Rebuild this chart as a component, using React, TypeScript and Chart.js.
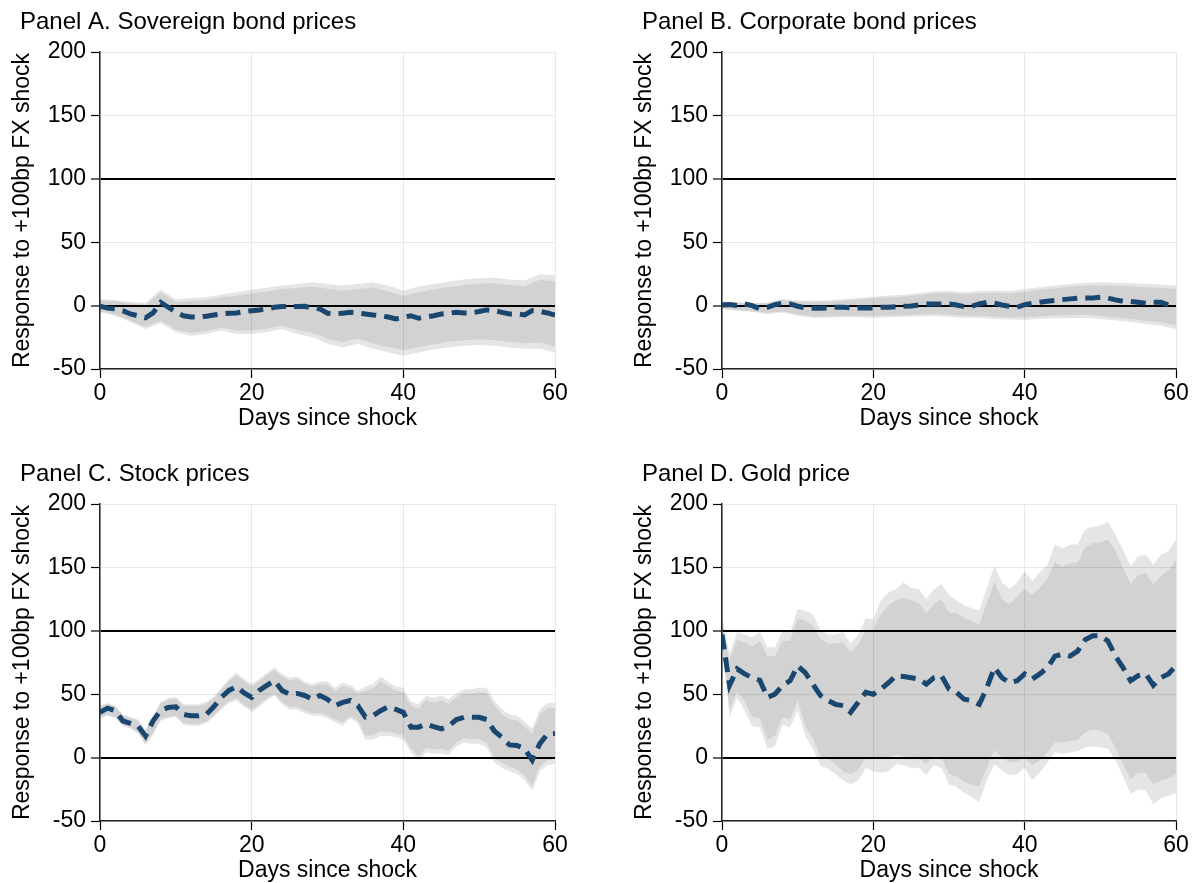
import React, { useEffect, useRef } from 'react';
import { Chart, registerables } from 'chart.js';

Chart.register(...registerables);

const FONT = "'Liberation Sans', Arial, Helvetica, sans-serif";
const NAVY = '#1a476f';
const OUTER_FILL = 'rgba(0,0,0,0.10)';
const INNER_FILL = 'rgba(0,0,0,0.085)';

const DAYS = [0, 1, 2, 3, 4, 5, 6, 7, 8, 9, 10, 11, 12, 13, 14, 15, 16, 17, 18, 19, 20, 21, 22, 23, 24, 25, 26, 27, 28, 29, 30, 31, 32, 33, 34, 35, 36, 37, 38, 39, 40, 41, 42, 43, 44, 45, 46, 47, 48, 49, 50, 51, 52, 53, 54, 55, 56, 57, 58, 59, 60];
const EVEN_DAYS = [0, 2, 4, 6, 8, 10, 12, 14, 16, 18, 20, 22, 24, 26, 28, 30, 32, 34, 36, 38, 40, 42, 44, 46, 48, 50, 52, 54, 56, 58, 60];

const Y_TICKS = [-50, 0, 50, 100, 150, 200];
const X_TICKS = [0, 20, 40, 60];
const REF_LINES = [0, 100];

// Panel A. Sovereign bond prices
const A_MEAN = [-0.5, -2, -2.6, -4, -6.6, -8, -9.7, -5.8, 2.5, -1.3, -5, -8, -9, -9, -8.4, -7.4, -6.6, -6, -5.8, -4.7, -4, -3.4, -2.6, -1.3, -0.8, -0.5, -0.8, -0.5, -2, -2.6, -6, -6.6, -6, -5.3, -5.8, -6.6, -7.4, -8, -9, -10.5, -9.2, -8, -10, -9, -8, -6.6, -6, -5.3, -5.8, -5.8, -4.7, -3.4, -4, -5.3, -6.6, -6.6, -7.4, -4, -4.5, -5.8, -7.4];
const A_OUT_HI = [5, 4.5, 3, 2, 12.6, 5, 6, 6.6, 8.7, 10.5, 12.6, 14, 15.8, 17, 18.4, 17, 15.8, 17, 18.4, 15.8, 12, 15, 17, 19, 20.5, 21.5, 22, 20.5, 19.7, 25, 24];
const A_IN_HI = [4.2, 3.5, 1.7, 0.4, 10.5, 3, 3.6, 4.2, 6.4, 7.8, 9.8, 11.2, 13, 13.8, 15, 13.2, 11.8, 13, 14.2, 11.4, 7.8, 10.6, 12.8, 14.6, 16.3, 17.3, 17.6, 16.2, 15.3, 20.3, 19.2];
const A_IN_LO = [-4.5, -7, -11.7, -16.8, -12, -19, -21.6, -20, -17.4, -19.7, -19.6, -18.2, -15.6, -19.2, -21.5, -26.2, -29, -26, -29.8, -32.6, -35.3, -32.6, -30.5, -28.6, -27.4, -26.8, -27.2, -28.7, -29.6, -29.3, -32.2];
const A_OUT_LO = [-5.3, -8, -13, -18.4, -14, -21, -24, -22.4, -19.7, -22.4, -22.4, -21, -18.4, -22.4, -25, -30, -33, -30, -34, -37, -39.5, -37, -34.7, -33, -31.6, -31, -31.6, -33, -34, -34, -37];

// Panel B. Corporate bond prices
const B_MEAN = [0.5, 0.8, 0, 1.3, 0, -2.6, -1.3, 0.8, 1.8, 1.3, -0.5, -1.8, -2, -2, -1.8, -1.3, -1.3, -1.8, -1.8, -1.8, -1.8, -1.3, -1.3, -0.8, -0.5, -0.3, 0.5, 1.3, 1.3, 1.3, 1.3, 0.5, -0.8, -0.5, 1.3, 2.6, 2, 0.5, -0.5, -1.3, 0.8, 1.8, 2.6, 3.4, 4, 4.7, 5.3, 5.8, 6, 6, 6.6, 6, 4.5, 3.4, 3.2, 2.6, 1.8, 2.6, 2.6, 0.5, -0.5];
const B_OUT_HI = [3.4, 2.6, 2, 2.5, 5.3, 4, 4, 4.2, 5, 6, 7, 8, 8.6, 9.8, 11.3, 11.8, 10.5, 11.5, 12, 11.5, 13, 14.5, 15.8, 17, 18, 18.4, 18, 17.6, 17, 16.6, 15.8];
const B_IN_HI = [2.9, 2.1, 1.4, 1.8, 4.4, 3, 2.9, 3.1, 3.9, 4.8, 5.7, 6.6, 7.2, 8.3, 9.7, 10.1, 8.9, 9.8, 10.2, 9.7, 11, 12.5, 13.7, 14.9, 15.8, 16.1, 15.6, 15.1, 14.5, 14, 13.1];
const B_IN_LO = [-2.1, -3.5, -4.4, -5.9, -4.6, -7, -8.6, -8.4, -8.1, -8, -8.4, -7.8, -7.6, -7, -6.6, -7.3, -8.1, -8, -8.7, -9.2, -9.3, -8.5, -7.9, -7.6, -7.5, -8.2, -9.4, -10.5, -12, -13.2, -15.7];
const B_OUT_LO = [-2.6, -4, -5, -6.6, -5.5, -8, -9.7, -9.5, -9.2, -9.2, -9.7, -9.2, -9, -8.5, -8.2, -9, -9.7, -9.7, -10.5, -11, -11.3, -10.5, -10, -9.7, -9.7, -10.5, -11.8, -13, -14.5, -15.8, -18.4];

// Panel C. Stock prices
const C_MEAN = [35.7, 39, 37, 29, 27, 25, 17, 29, 37, 39.6, 40, 34, 33, 33, 34, 40, 47.5, 53, 56, 51, 47.5, 53, 57, 60.6, 53, 50, 50.6, 49, 46, 49, 46, 41, 43.5, 45, 41, 32, 33, 37, 40, 38, 35.7, 24, 24, 26.5, 24.4, 22.6, 25, 30, 31.8, 31.8, 31.8, 30, 21, 16, 10, 9.5, 7, -2, 11, 18.6, 19];
const C_OUT_HI = [41, 43, 41, 34, 32, 30, 22, 33, 44, 47, 48, 42, 42, 42, 44, 48, 55, 62, 67, 62, 58, 62, 67, 71, 66, 63, 64, 60, 58, 60, 60, 55, 59, 57, 53, 56, 58, 64, 60, 56, 55, 44, 42, 49, 47, 49, 46, 51, 54, 54, 55, 55, 45, 38, 34, 33, 28, 23, 38, 43, 43];
const C_IN_HI = [40.2, 42.2, 40.2, 33.3, 31.3, 29.1, 21, 31.8, 42.8, 45.7, 46.7, 40.7, 40.6, 40.6, 42.6, 46.7, 53.6, 60.5, 65.2, 60.2, 56.2, 60.2, 65.2, 69.2, 64.1, 61, 61.9, 58, 56, 57.8, 57.7, 52.8, 56.3, 54.9, 50.9, 52.6, 54.5, 60.2, 56.6, 52.8, 51.7, 40.8, 38.5, 45.4, 43.5, 45.3, 42.5, 47.6, 50.6, 50.6, 51.5, 51.2, 41.1, 34.3, 30.4, 29.3, 24.3, 19.1, 34.1, 39.1, 39.2];
const C_IN_LO = [31.8, 33.8, 31.8, 25.7, 23.7, 19.9, 11, 19.2, 30.2, 32.3, 33.3, 27.3, 26.4, 26.4, 28.4, 33.3, 39.4, 44.5, 46.8, 41.8, 37.8, 41.8, 46.8, 50.8, 43.9, 40, 40.1, 37, 35, 35.2, 33.3, 30.2, 27.7, 33.1, 29.1, 17.4, 17.5, 20.8, 20.4, 19.2, 17.3, 7.2, 1.5, 7.6, 6.5, 6.7, 5.5, 12.4, 15.4, 14.4, 14.5, 11.8, -0.1, -4.3, -7.4, -9.3, -14.3, -22.1, -7.1, -2.1, -1.2];
const C_OUT_LO = [31, 33, 31, 25, 23, 19, 10, 18, 29, 31, 32, 26, 25, 25, 27, 32, 38, 43, 45, 40, 36, 40, 45, 49, 42, 38, 38, 35, 33, 33, 31, 28, 25, 31, 27, 14, 14, 17, 17, 16, 14, 4, -2, 4, 3, 3, 2, 9, 12, 11, 11, 8, -4, -8, -11, -13, -18, -26, -11, -6, -5];

// Panel D. Gold price
const D_MEAN = [97, 57, 70, 66, 63, 61, 47.5, 50, 57, 60.6, 72.4, 67, 58, 49, 45, 42, 41, 35.7, 43.6, 51.4, 50, 54, 59, 64.6, 64, 63, 62, 58, 63, 64.6, 54, 51.4, 46, 45, 42, 55, 71, 63, 59, 60.6, 66, 62, 66, 71, 80, 81.6, 80, 84, 93, 96, 96, 92, 80, 71, 60.6, 64.6, 66, 57, 63, 66, 72.4];
const D_OUT_HI = [112, 82, 99, 97, 95, 99, 87, 87, 100, 99, 117, 116, 113, 101, 97, 97, 99, 90, 97, 110, 109, 124, 130, 133, 138, 134, 133, 125, 133, 137, 128, 124, 120, 118, 116, 134, 151, 138, 133, 138, 147, 139, 146, 152, 168, 165, 168, 168, 180, 182, 183, 186, 176, 164, 151, 159, 160, 152, 160, 163, 172];
const D_IN_HI = [104, 77, 93, 91, 88, 92, 80, 80, 92, 92, 110, 108, 104, 94, 90, 90, 91, 83, 89, 100, 101, 113, 120, 124, 126, 124, 122, 114, 121, 125, 114, 114, 110, 108, 105, 122, 138, 125, 121, 127, 133, 128, 134, 141, 154, 151, 153, 154, 166, 169, 170, 172, 163, 150, 137, 144, 146, 137, 143, 148, 156];
const D_IN_LO = [93, 38, 52, 44, 32, 31, 14, 17, 32, 30, 45, 25, 15, 1, -1, -5, -11, -13, -10, 0, -1, -1, 0, 2, 1, 0, -1, -5, 1, 0, -13, -15, -19, -21, -23, -8, 6, 0, -4, -3, 0, -6, -2, 4, 12, 12, 13, 14, 20, 22, 21, 18, 8, -5, -17, -12, -12, -21, -18, -16, -13];
const D_OUT_LO = [90, 32, 47, 37, 25, 24, 7, 9, 26, 24, 37, 17, 7, -6, -9, -13, -18, -21, -18, -8, -11, -12, -11, -5, -6, -8, -8, -14, -6, -8, -21, -23, -28, -31, -35, -18, -5, -10, -14, -13, -8, -18, -12, -4, 4, 3, 4, 5, 8, 9, 8, 7, -2, -15, -29, -25, -26, -37, -32, -30, -28];

const TITLES = ['Panel A. Sovereign bond prices', 'Panel B. Corporate bond prices', 'Panel C. Stock prices', 'Panel D. Gold price'];
const Y_TITLE = 'Response to +100bp FX shock';
const X_TITLE = 'Days since shock';

const PANEL_H = 434;

function toPoints(xs: number[], ys: number[]) {
  return xs.map((x, i) => ({ x, y: ys[i] }));
}

const panelTitlePlugin = {
  id: 'panelTitle',
  afterDraw(chart: any, _args: any, opts: any) {
    const ctx = chart.ctx;
    ctx.save();
    ctx.font = `${opts.size}px ${FONT}`;
    ctx.fillStyle = '#000';
    ctx.textBaseline = 'alphabetic';
    ctx.textAlign = 'left';
    ctx.fillText(opts.text, opts.x, opts.y);
    ctx.restore();
  },
};

type PanelProps = {
  title: string;
  left: number;
  top: number;
  width: number;
  plotRight: number;
  days: number[];
  mean: number[];
  bandDays: number[];
  outHi: number[];
  inHi: number[];
  inLo: number[];
  outLo: number[];
};

function Panel(p: PanelProps) {
  const ref = useRef<HTMLCanvasElement>(null);
  useEffect(() => {
    const canvas = ref.current;
    if (!canvas) return;
    const bandStyle = { borderWidth: 0, borderColor: 'rgba(0,0,0,0)', pointRadius: 0, pointHoverRadius: 0, tension: 0 };
    const chart = new Chart(canvas, {
      type: 'line',
      data: {
        datasets: [
          {
            label: 'mean',
            data: toPoints(p.days, p.mean),
            borderColor: NAVY,
            borderWidth: 5,
            borderDash: [15, 8],
            borderCapStyle: 'butt',
            pointRadius: 0,
            pointHoverRadius: 0,
            fill: false,
            tension: 0,
          },
          { label: 'innerLo', data: toPoints(p.bandDays, p.inLo), fill: false, ...bandStyle },
          { label: 'innerHi', data: toPoints(p.bandDays, p.inHi), fill: '-1', backgroundColor: INNER_FILL, ...bandStyle },
          { label: 'outerLo', data: toPoints(p.bandDays, p.outLo), fill: false, ...bandStyle },
          { label: 'outerHi', data: toPoints(p.bandDays, p.outHi), fill: '-1', backgroundColor: OUTER_FILL, ...bandStyle },
        ],
      } as any,
      options: {
        responsive: false,
        animation: false,
        events: [],
        layout: { padding: { left: 0, top: 52, right: p.width - p.plotRight, bottom: 0 } },
        plugins: {
          legend: { display: false },
          tooltip: { enabled: false },
          panelTitle: { text: p.title, x: 20, y: 29, size: 24 },
        } as any,
        scales: {
          x: {
            type: 'linear',
            min: 0,
            max: 60,
            afterBuildTicks: (scale: any) => {
              scale.ticks = X_TICKS.map((v) => ({ value: v }));
            },
            afterFit: (scale: any) => {
              scale.height = 65;
            },
            ticks: { color: '#000', font: { family: FONT, size: 23, lineHeight: 1 }, padding: 4, maxRotation: 0 },
            grid: { color: '#e8e8e8', lineWidth: 1, tickColor: '#000', tickLength: 9, tickWidth: 1.2 },
            border: { display: true, color: '#222', width: 1.5 },
            title: {
              display: true,
              text: X_TITLE,
              color: '#000',
              font: { family: FONT, size: 23, lineHeight: 1 },
              padding: { top: 0, bottom: 4 },
            },
          },
          y: {
            type: 'linear',
            min: -50,
            max: 200,
            afterBuildTicks: (scale: any) => {
              scale.ticks = Y_TICKS.map((v) => ({ value: v }));
            },
            afterFit: (scale: any) => {
              scale.width = 100;
            },
            ticks: { color: '#000', font: { family: FONT, size: 23, lineHeight: 1 }, padding: 5 },
            grid: {
              color: (ctx: any) => (ctx.tick && REF_LINES.includes(ctx.tick.value) ? '#000' : '#e8e8e8'),
              lineWidth: (ctx: any) => (ctx.tick && REF_LINES.includes(ctx.tick.value) ? 2 : 1),
              tickColor: '#000',
              tickLength: 9,
              tickWidth: 1.2,
            },
            border: { display: true, color: '#222', width: 1.5 },
            title: {
              display: true,
              text: Y_TITLE,
              color: '#000',
              font: { family: FONT, size: 23, lineHeight: 1 },
              padding: { top: 11, bottom: 0 },
            },
          },
        },
      } as any,
      plugins: [panelTitlePlugin],
    });
    return () => chart.destroy();
  }, []);
  return (
    <canvas
      ref={ref}
      width={p.width}
      height={PANEL_H}
      style={{ position: 'absolute', left: p.left, top: p.top, width: p.width, height: PANEL_H, display: 'block' }}
    />
  );
}

export default function App() {
  return (
    <div style={{ position: 'absolute', left: 0, top: 0, width: 1197, height: 883, overflow: 'hidden', background: '#fff' }}>
      <Panel title={TITLES[0]} left={0} top={0} width={580} plotRight={555} days={DAYS} mean={A_MEAN} bandDays={EVEN_DAYS} outHi={A_OUT_HI} inHi={A_IN_HI} inLo={A_IN_LO} outLo={A_OUT_LO} />
      <Panel title={TITLES[1]} left={622} top={0} width={575} plotRight={554} days={DAYS} mean={B_MEAN} bandDays={EVEN_DAYS} outHi={B_OUT_HI} inHi={B_IN_HI} inLo={B_IN_LO} outLo={B_OUT_LO} />
      <Panel title={TITLES[2]} left={0} top={452} width={580} plotRight={555} days={DAYS} mean={C_MEAN} bandDays={DAYS} outHi={C_OUT_HI} inHi={C_IN_HI} inLo={C_IN_LO} outLo={C_OUT_LO} />
      <Panel title={TITLES[3]} left={622} top={452} width={575} plotRight={554} days={DAYS} mean={D_MEAN} bandDays={DAYS} outHi={D_OUT_HI} inHi={D_IN_HI} inLo={D_IN_LO} outLo={D_OUT_LO} />
    </div>
  );
}
